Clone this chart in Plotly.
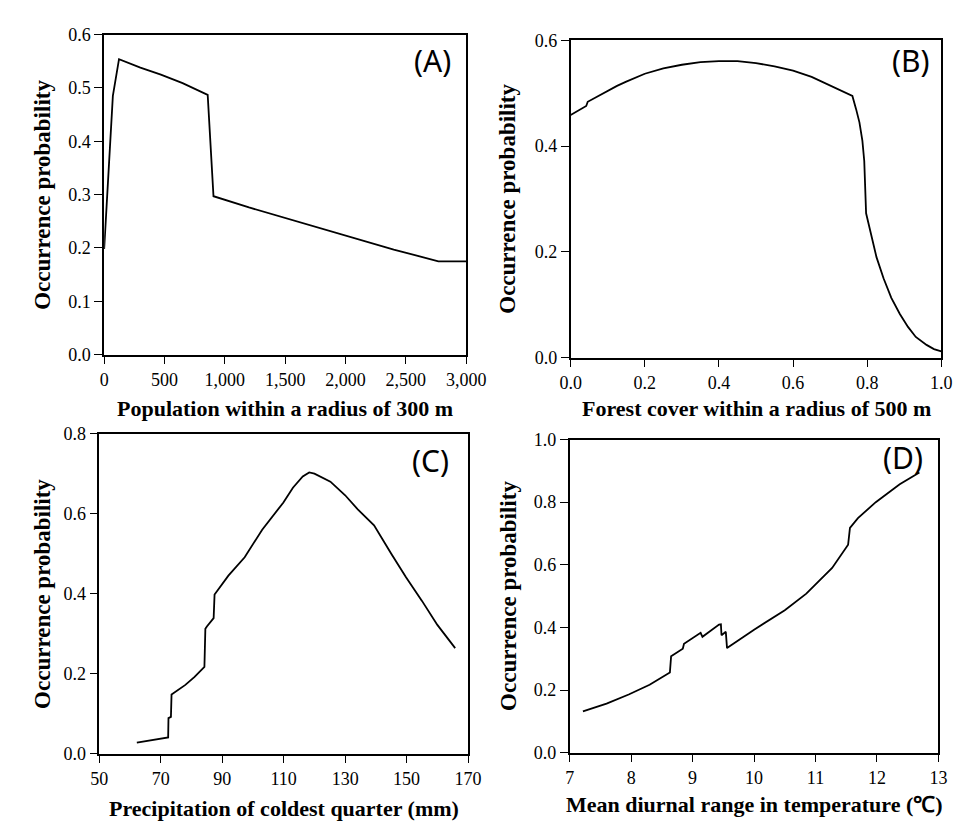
import plotly.graph_objects as go

# Panel A: population within 300 m
pop_x = [0, 72, 123, 300, 470, 650, 858, 906, 1200, 1600, 1994, 2400, 2770, 3000]
pop_y = [0.198, 0.485, 0.554, 0.538, 0.525, 0.509, 0.487, 0.297, 0.276, 0.250, 0.224, 0.197, 0.175, 0.175]

# Panel B: forest cover within 500 m
for_x = [0.0, 0.042, 0.046, 0.075, 0.1, 0.125, 0.15, 0.175, 0.2, 0.25, 0.3, 0.35, 0.4, 0.45, 0.5, 0.55,
         0.6, 0.65, 0.705, 0.76, 0.77, 0.779, 0.787, 0.792, 0.797, 0.809, 0.825, 0.844, 0.865, 0.888,
         0.91, 0.931, 0.96, 0.98, 1.0]
for_y = [0.459, 0.476, 0.484, 0.495, 0.505, 0.514, 0.522, 0.530, 0.537, 0.547, 0.554, 0.559, 0.561,
         0.561, 0.557, 0.551, 0.543, 0.531, 0.513, 0.495, 0.470, 0.445, 0.410, 0.372, 0.273, 0.236,
         0.190, 0.150, 0.113, 0.0825, 0.058, 0.039, 0.024, 0.016, 0.0117]

# Panel C: precipitation of coldest quarter
pre_x = [62.2, 72.4, 72.5, 73.3, 73.5, 74.2, 78, 81, 84.2, 84.5, 85.0, 87.2, 87.5, 92, 97.3, 103,
         109.9, 113, 116.2, 118.3, 120, 125.2, 130, 134.1, 139.4, 145, 149.8, 155, 160, 165.8]
pre_y = [0.0276, 0.0407, 0.089, 0.092, 0.148, 0.152, 0.172, 0.192, 0.217, 0.312, 0.318, 0.339,
         0.398, 0.445, 0.491, 0.560, 0.628, 0.665, 0.693, 0.703, 0.700, 0.680, 0.646, 0.611,
         0.571, 0.500, 0.441, 0.382, 0.322, 0.264]

# Panel D: mean diurnal range in temperature
tmp_x = [7.215, 7.6, 7.96, 8.3, 8.63, 8.65, 8.84, 8.86, 9.13, 9.16, 9.43, 9.46, 9.47, 9.54, 9.56,
         10.0, 10.5, 10.85, 11.27, 11.53, 11.56, 11.69, 11.98, 12.37, 12.69]
tmp_y = [0.132, 0.157, 0.186, 0.217, 0.256, 0.308, 0.332, 0.348, 0.383, 0.370, 0.409, 0.410,
         0.375, 0.386, 0.334, 0.393, 0.455, 0.508, 0.590, 0.664, 0.718, 0.749, 0.800, 0.857, 0.895]

W, H = 964, 824
panels = [
    dict(x=pop_x, y=pop_y, box=(88, 462, 17, 345), xr=[0, 3000], xd=500, xf=",d", yr=[0, 0.6], yd=0.1,
         xt="Population within a radius of 300 m", xty=400, ytx=24, lab="(A)", lx=427, ly=44),
    dict(x=for_x, y=for_y, box=(570, 953, 23, 348), xr=[0, 1], xd=0.2, xf=".1f", yr=[0, 0.6], yd=0.2,
         xt="Forest cover within a radius of 500 m", xty=400, ytx=505, lab="(B)", lx=922, ly=44),
    dict(x=pre_x, y=pre_y, box=(83, 464, 426, 754), xr=[50, 170], xd=20, xf="d", yr=[0, 0.8], yd=0.2,
         xt="Precipitation of coldest quarter (mm)", xty=810, ytx=24, lab="(C)", lx=425, ly=453),
    dict(x=tmp_x, y=tmp_y, box=(569, 950, 432, 753), xr=[7, 13], xd=1, xf="d", yr=[0, 1.0], yd=0.2,
         xt="Mean diurnal range in temperature (\u2103)", xty=806, ytx=505, lab="(D)", lx=913, ly=450),
]

fig = go.Figure()
serif = "Liberation Serif"
annotations = []
layout_axes = {}
for i, p in enumerate(panels, start=1):
    l, r, t, b = p["box"]
    xa = "x" if i == 1 else f"x{i}"
    ya = "y" if i == 1 else f"y{i}"
    fig.add_trace(go.Scatter(x=p["x"], y=p["y"], mode="lines", line=dict(color="black", width=1.8),
                             xaxis=xa, yaxis=ya, showlegend=False))
    layout_axes["xaxis" if i == 1 else f"xaxis{i}"] = dict(
        domain=[l / W, r / W], range=p["xr"], dtick=p["xd"], tick0=p["xr"][0], tickformat=p["xf"],
        anchor=ya)
    layout_axes["yaxis" if i == 1 else f"yaxis{i}"] = dict(
        domain=[1 - b / H, 1 - t / H], range=p["yr"], dtick=p["yd"], tick0=0, tickformat=".1f",
        anchor=xa)
    annotations.append(dict(text=f"<b>{p['xt']}</b>", x=(l + r) / 2 / W, y=1 - p["xty"] / H,
                            xref="paper", yref="paper", showarrow=False, xanchor="center", yanchor="middle",
                            font=dict(family=serif, size=22, color="black")))
    annotations.append(dict(text="<b>Occurrence probability</b>", x=p["ytx"] / W, y=1 - (t + b) / 2 / H,
                            xref="paper", yref="paper", showarrow=False, textangle=-90,
                            xanchor="center", yanchor="middle",
                            font=dict(family=serif, size=23, color="black")))
    annotations.append(dict(text=p["lab"], x=p["lx"] / W, y=1 - p["ly"] / H, xref="paper", yref="paper",
                            showarrow=False, xanchor="center", yanchor="middle",
                            font=dict(family="Noto Sans", size=30, color="black")))

fig.update_layout(width=W, height=H, margin=dict(l=0, r=0, t=0, b=0), paper_bgcolor="white",
                  plot_bgcolor="white", annotations=annotations,
                  font=dict(family=serif, size=18, color="black"), **layout_axes)
axstyle = dict(showgrid=False, zeroline=False, showline=True, linecolor="black", linewidth=1.5,
               mirror=True, ticks="outside", ticklen=8, tickwidth=1, tickcolor="black",
               tickfont=dict(family=serif, size=18, color="black"))
fig.update_xaxes(**axstyle)
fig.update_yaxes(**axstyle)
fig.write_html("out.html")
